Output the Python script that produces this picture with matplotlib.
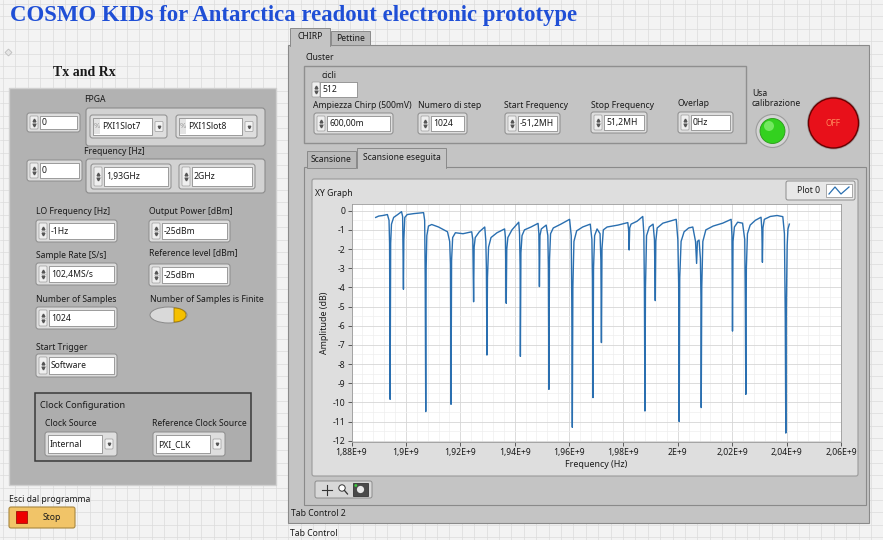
import numpy as np
import matplotlib.pyplot as plt
from matplotlib.patches import Rectangle, FancyBboxPatch, Circle, Ellipse, Polygon

W, H = 883, 540
plt.rcParams['font.family'] = ['Noto Sans', 'DejaVu Sans']

# ---- XY graph data, frequency in MHz, amplitude in dB
TRACE_FREQ_MHZ = [
    1888.9, 1890.0, 1891.5, 1893.2,
    1893.8, 1894.0, 1894.2, 1894.4, 1894.7, 1895.5, 1897.0, 1898.4,
    1898.8, 1899.0, 1899.1, 1899.25, 1899.6, 1900.5, 1903.0, 1906.5,
    1906.9, 1907.1, 1907.3, 1907.45, 1907.7, 1908.3, 1909.5, 1912.0, 1915.3,
    1916.1, 1916.4, 1916.6, 1916.8, 1917.2, 1918.2, 1921.0, 1924.2,
    1924.6, 1924.9, 1925.1, 1925.5, 1927.0, 1929.0,
    1929.4, 1929.6, 1929.8, 1930.0, 1930.4, 1931.3, 1933.5, 1936.3,
    1936.6, 1936.9, 1937.1, 1937.5, 1939.0, 1941.5,
    1941.8, 1942.0, 1942.1, 1942.3, 1942.7, 1943.6, 1946.0, 1948.6,
    1948.9, 1949.1, 1949.3, 1949.8, 1951.6,
    1952.2, 1952.4, 1952.6, 1952.8, 1953.2, 1954.2, 1957.0, 1960.2,
    1960.8, 1961.0, 1961.2, 1961.4, 1961.8, 1962.8, 1965.0, 1967.8,
    1968.4, 1968.6, 1968.8, 1969.0, 1969.4, 1970.3, 1971.4,
    1971.7, 1971.9, 1972.1, 1972.6, 1974.0, 1978.0, 1981.6,
    1981.9, 1982.1, 1982.3, 1982.8, 1985.0, 1987.1,
    1987.5, 1987.7, 1987.9, 1988.1, 1988.5, 1989.5, 1990.9,
    1991.4, 1991.7, 1991.9, 1992.4, 1994.5, 1997.0, 1999.4,
    2000.0, 2000.3, 2000.5, 2000.7, 2001.2, 2002.3, 2004.0, 2005.5,
    2006.5, 2006.9, 2007.2, 2007.8, 2008.3, 2008.5, 2008.6, 2008.8, 2009.2,
    2010.3, 2013.0, 2016.5, 2019.6,
    2019.9, 2020.0, 2020.1, 2020.3, 2020.8, 2022.0, 2023.8,
    2024.6, 2024.8, 2025.0, 2025.2, 2025.6, 2026.6, 2028.5, 2030.6,
    2030.9, 2031.1, 2031.3, 2031.8, 2034.0, 2036.5, 2038.6,
    2039.2, 2039.5, 2039.7, 2039.9, 2040.2, 2040.5, 2041.0,
]
TRACE_AMP_DB = [
    -0.35, -0.28, -0.25, -0.2,
    -0.5, -1.7, -9.84, -1.7, -0.7, -0.35, -0.2, -0.05,
    -0.3, -2.6, -4.1, -1.5, -0.35, -0.2, -0.15, -0.1,
    -0.5, -3.5, -10.48, -3.0, -1.3, -0.8, -0.72, -0.85, -1.1,
    -1.6, -2.8, -10.1, -2.6, -1.4, -1.15, -1.2, -1.1,
    -1.5, -4.75, -1.9, -1.4, -1.1, -0.85,
    -1.6, -3.0, -7.53, -3.5, -1.9, -1.4, -1.15, -0.95,
    -1.4, -4.83, -2.0, -1.4, -1.0, -0.6,
    -1.2, -2.9, -7.6, -2.2, -1.3, -1.0, -0.85, -0.66,
    -1.2, -3.96, -1.3, -0.95, -0.75,
    -1.3, -2.9, -9.32, -2.6, -1.2, -0.9, -0.7, -0.45,
    -1.3, -4.8, -11.3, -4.0, -1.6, -1.05, -0.85, -0.7,
    -1.5, -3.5, -9.75, -3.0, -1.3, -0.95, -1.2,
    -2.6, -6.88, -2.0, -1.0, -0.85, -0.75, -0.62,
    -1.0, -2.05, -0.9, -0.7, -0.55, -0.3,
    -1.2, -4.0, -10.45, -4.0, -1.3, -0.85, -0.7,
    -1.5, -4.69, -1.6, -0.9, -0.65, -0.55, -0.45,
    -1.5, -3.8, -11.0, -3.5, -1.6, -1.1, -0.9, -0.85,
    -1.6, -2.75, -1.6, -1.53, -2.5, -4.5, -10.27, -4.0, -1.6,
    -1.0, -0.8, -0.65, -0.45,
    -1.3, -4.4, -6.28, -1.6, -0.85, -0.6, -0.65,
    -1.5, -4.5, -9.58, -3.0, -1.2, -0.75, -0.5, -0.34,
    -1.0, -2.69, -0.9, -0.45, -0.3, -0.25, -0.31,
    -1.2, -5.5, -11.6, -5.0, -1.8, -0.95, -0.7,
]
X_TICKS = [1.88e9, 1.90e9, 1.92e9, 1.94e9, 1.96e9, 1.98e9, 2.00e9, 2.02e9, 2.04e9, 2.06e9]
X_TICK_LABELS = ['1,88E+9', '1,9E+9', '1,92E+9', '1,94E+9', '1,96E+9', '1,98E+9',
                 '2E+9', '2,02E+9', '2,04E+9', '2,06E+9']
Y_TICKS = [0, -1, -2, -3, -4, -5, -6, -7, -8, -9, -10, -11, -12]

# ---- front panel control values
FPGA_INDEX = '0'
FPGA_SLOTS = ['PXI1Slot7', 'PXI1Slot8']
FREQ_INDEX = '0'
FREQ_VALUES = ['1,93GHz', '2GHz']
LO_FREQ = '-1Hz'
OUTPUT_POWER = '-25dBm'
SAMPLE_RATE = '102,4MS/s'
REF_LEVEL = '-25dBm'
N_SAMPLES = '1024'
START_TRIGGER = 'Software'
CLOCK_SOURCE = 'Internal'
REF_CLOCK_SOURCE = 'PXI_CLK'
CICLI = '512'
AMPIEZZA = '600,00m'
NUM_STEP = '1024'
START_FREQ = '-51,2MH'
STOP_FREQ = '51,2MH'
OVERLAP = '0Hz'

TRACE_COLOR = '#2a6fb0'
PANEL_GRAY = '#b2b2b2'
PAGE_GRAY = '#c4c4c4'
TXT = '#1a1a1a'
FS = 6.2


def box(ax, x0, y0, x1, y1, fc, ec='#8a8a8a', lw=0.7, r=2.0, z=2):
    ax.add_patch(FancyBboxPatch((x0, y0), x1 - x0, y1 - y0,
                                boxstyle=f'round,pad=0,rounding_size={r}',
                                fc=fc, ec=ec, lw=lw, zorder=z))


def label(ax, x, y, s, size=FS, **kw):
    ax.text(x, y, s, fontsize=size, color=kw.pop('color', TXT), va='center',
            ha=kw.pop('ha', 'left'), zorder=kw.pop('zorder', 6), **kw)


def arrows(ax, x0, y0, y1, z=4):
    box(ax, x0, y0, x0 + 8, y1, '#efefef', ec='#9c9c9c', lw=0.5, r=1, z=z)
    ym = (y0 + y1) / 2
    ax.plot([x0 + 4], [ym - 2.6], marker='^', ms=2.0, color='#555555', zorder=z + 1)
    ax.plot([x0 + 4], [ym + 2.6], marker='v', ms=2.0, color='#555555', zorder=z + 1)
    ax.plot([x0 + 1.5, x0 + 6.5], [ym, ym], color='#b0b0b0', lw=0.4, zorder=z + 1)


def numeric(ax, x0, y0, x1, y1, s, with_arrows=True, z=3):
    box(ax, x0, y0, x1, y1, '#dedede', ec='#8c8c8c', lw=0.7, r=2.5, z=z)
    fx = x0 + 3
    if with_arrows:
        arrows(ax, x0 + 3, y0 + 3, y1 - 3, z=z + 1)
        fx = x0 + 13
    ax.add_patch(Rectangle((fx, y0 + 3), x1 - 3 - fx, y1 - y0 - 6, fc='white',
                           ec='#7a7a7a', lw=0.5, zorder=z + 1))
    label(ax, fx + 2, (y0 + y1) / 2 + 0.3, s, zorder=z + 2)


def ring(ax, x0, y0, x1, y1, s, icon=False, z=3):
    box(ax, x0, y0, x1, y1, '#dedede', ec='#8c8c8c', lw=0.7, r=2.5, z=z)
    ax.add_patch(Rectangle((x0 + 3, y0 + 3), x1 - x0 - 18, y1 - y0 - 6, fc='white',
                           ec='#7a7a7a', lw=0.5, zorder=z + 1))
    box(ax, x1 - 12, (y0 + y1) / 2 - 5, x1 - 4, (y0 + y1) / 2 + 5, '#f2f2f2',
        ec='#9c9c9c', lw=0.5, r=1, z=z + 1)
    ax.plot([x1 - 8], [(y0 + y1) / 2], marker='v', ms=1.8, color='#555555', zorder=z + 3)
    tx = x0 + 5
    if icon:
        ax.add_patch(Rectangle((x0 + 4, y0 + 4), 6, y1 - y0 - 8, fc='#e4e4e4', ec='none',
                               zorder=z + 2))
        label(ax, x0 + 7, (y0 + y1) / 2, '%', size=5.5, color='#9a9a9a', ha='center',
              zorder=z + 3)
        tx = x0 + 12
    label(ax, tx, (y0 + y1) / 2 + 0.3, s, zorder=z + 3)


fig = plt.figure(figsize=(W / 100, H / 100), dpi=100)
ui = fig.add_axes([0, 0, 1, 1])
ui.set_xlim(0, W)
ui.set_ylim(H, 0)
ui.axis('off')

# LabVIEW panel grid background
ui.add_patch(Rectangle((0, 0), W, H, fc='#f3f3f3', ec='none', zorder=0))
for gxp in np.arange(3, W, 12.4):
    ui.plot([gxp, gxp], [0, H], color='#dcdcdc', lw=0.5, zorder=0.5)
for gyp in np.arange(4, H, 12.4):
    ui.plot([0, W], [gyp, gyp], color='#dcdcdc', lw=0.5, zorder=0.5)
ui.plot([8], [52], marker='D', ms=3.5, mfc='#e6e6e6', mec='#bdbdbd', mew=0.6, zorder=1)

ui.text(10, 15, 'COSMO KIDs for Antarctica readout electronic prototype',
        fontsize=16.4, fontweight='bold', family=['Liberation Serif', 'DejaVu Serif'],
        color='#1f4fd6', va='center', ha='left', zorder=6)
ui.text(53, 73, 'Tx and Rx', fontsize=10, fontweight='bold',
        family=['Liberation Serif', 'DejaVu Serif'], color=TXT, va='center', zorder=6)

# ---- left cluster
ui.add_patch(Rectangle((9, 88), 267, 397, fc=PANEL_GRAY, ec='#d0d0d0', lw=1.0, zorder=1))
label(ui, 84, 100, 'FPGA')
numeric(ui, 27, 113, 80, 132, FPGA_INDEX)
box(ui, 86, 108, 265, 146, '#d2d2d2', ec='#8c8c8c', lw=0.8, r=3)
ring(ui, 90, 115, 167, 138, FPGA_SLOTS[0], icon=True)
ring(ui, 176, 115, 257, 138, FPGA_SLOTS[1], icon=True)

label(ui, 84, 151, 'Frequency [Hz]')
numeric(ui, 27, 160, 82, 181, FREQ_INDEX)
box(ui, 86, 159, 265, 193, '#d2d2d2', ec='#8c8c8c', lw=0.8, r=3)
numeric(ui, 91, 164, 171, 189, FREQ_VALUES[0])
numeric(ui, 179, 164, 255, 189, FREQ_VALUES[1])

label(ui, 36, 212, 'LO Frequency [Hz]')
numeric(ui, 36, 220, 117, 242, LO_FREQ)
label(ui, 149, 212, 'Output Power [dBm]')
numeric(ui, 149, 220, 230, 242, OUTPUT_POWER)
label(ui, 36, 256, 'Sample Rate [S/s]')
numeric(ui, 36, 263, 117, 285, SAMPLE_RATE)
label(ui, 149, 253, 'Reference level [dBm]')
numeric(ui, 149, 264, 230, 286, REF_LEVEL)
label(ui, 36, 299, 'Number of Samples')
numeric(ui, 36, 307, 117, 329, N_SAMPLES)
label(ui, 150, 299, 'Number of Samples is Finite')
ui.add_patch(Ellipse((168.5, 315), 37, 16, fc='#d9d9d9', ec='#8a8a8a', lw=0.7, zorder=3))
th = np.linspace(-np.pi / 2, np.pi / 2, 30)
ui.add_patch(Polygon(np.column_stack([174 + 12 * np.cos(th), 315 + 7 * np.sin(th)]),
                     closed=True, fc='#f5c000', ec='#a07800', lw=0.6, zorder=4))
label(ui, 36, 347, 'Start Trigger')
numeric(ui, 36, 354, 117, 377, START_TRIGGER)

# clock configuration sub-cluster
ui.add_patch(Rectangle((35, 393), 216, 68, fc='#adadad', ec='#3a3a3a', lw=1.1, zorder=2))
label(ui, 40, 406, 'Clock Configuration', fontweight='bold', size=6.6)
label(ui, 45, 423, 'Clock Source')
ring(ui, 45, 432, 117, 456, CLOCK_SOURCE)
label(ui, 152, 423, 'Reference Clock Source')
ring(ui, 153, 432, 225, 456, REF_CLOCK_SOURCE)

label(ui, 9, 499, 'Esci dal programma')
box(ui, 9, 507, 75, 528, '#f1c468', ec='#a8873f', lw=0.8, r=2)
ui.add_patch(Rectangle((16, 511), 11, 12, fc='#ee0000', ec='#900000', lw=0.5, zorder=4))
label(ui, 52, 517.5, 'Stop', ha='center')

# ---- outer tab control
ui.add_patch(Rectangle((288, 45), 581, 478, fc=PAGE_GRAY, ec='#8a8a8a', lw=0.8, zorder=1))
ui.add_patch(Polygon([(331, 45), (331, 31), (370, 31), (370, 45)], closed=True,
                     fc='#b9b9b9', ec='#8a8a8a', lw=0.7, zorder=1))
ui.add_patch(Polygon([(290, 46), (290, 28), (330, 28), (330, 46)], closed=True,
                     fc=PAGE_GRAY, ec='#8a8a8a', lw=0.7, zorder=1.5))
ui.add_patch(Rectangle((290.5, 44), 39, 3, fc=PAGE_GRAY, ec='none', zorder=1.6))
label(ui, 310, 36.5, 'CHIRP', ha='center')
label(ui, 350.5, 38.5, 'Pettine', ha='center')

label(ui, 305, 58, 'Cluster')
ui.add_patch(Rectangle((304, 66), 442, 77, fc=PAGE_GRAY, ec='#8f8f8f', lw=1.0, zorder=2))
label(ui, 322, 75, 'cicli')
ui.add_patch(Rectangle((320, 82), 37, 15, fc='white', ec='#7a7a7a', lw=0.5, zorder=4))
arrows(ui, 312, 82, 97)
label(ui, 322, 89.8, CICLI)
label(ui, 313, 105, 'Ampiezza Chirp (500mV)')
numeric(ui, 314, 113, 393, 134, AMPIEZZA)
label(ui, 418, 105, 'Numero di step')
numeric(ui, 418, 113, 467, 134, NUM_STEP)
label(ui, 504, 105, 'Start Frequency')
numeric(ui, 505, 113, 560, 134, START_FREQ)
label(ui, 591, 105, 'Stop Frequency')
numeric(ui, 591, 112, 647, 133, STOP_FREQ)
label(ui, 678, 104, 'Overlap')
numeric(ui, 678, 112, 733, 133, OVERLAP)

label(ui, 752, 93, 'Usa')
label(ui, 752, 103, 'calibrazione')
ui.add_patch(Circle((772.5, 131), 16.5, fc='#d4d4d4', ec='#9c9c9c', lw=0.8, zorder=3))
ui.add_patch(Circle((772.5, 131), 12.5, fc='#33d11f', ec='#2a9a1a', lw=0.6, zorder=4))
ui.add_patch(Circle((769, 126), 5, fc='#8ff27c', ec='none', alpha=0.7, zorder=5))
ui.add_patch(Circle((833.5, 123), 26.5, fc='#9b9b9b', ec='none', zorder=3))
ui.add_patch(Circle((833.5, 123), 25, fc='#e8101a', ec='#6a0000', lw=1.0, zorder=4))
label(ui, 833.5, 123.5, 'OFF', ha='center', color='#ff8a5c', size=6)

# ---- inner tab control (Tab Control 2)
ui.add_patch(Rectangle((304, 167), 562, 338, fc=PAGE_GRAY, ec='#8a8a8a', lw=0.8, zorder=2))
ui.add_patch(Polygon([(307, 168), (307, 151), (356, 151), (356, 168)], closed=True,
                     fc='#b9b9b9', ec='#8a8a8a', lw=0.7, zorder=2))
ui.add_patch(Polygon([(357, 168), (357, 148), (446, 148), (446, 168)], closed=True,
                     fc=PAGE_GRAY, ec='#8a8a8a', lw=0.7, zorder=2.5))
ui.add_patch(Rectangle((357.5, 166), 88, 3, fc=PAGE_GRAY, ec='none', zorder=2.6))
label(ui, 331.5, 159.5, 'Scansione', ha='center')
label(ui, 401.5, 158, 'Scansione eseguita', ha='center')

# XY graph frame
box(ui, 312, 179, 858, 476, '#dedede', ec='#9a9a9a', lw=0.8, r=2, z=3)
label(ui, 315, 193, 'XY Graph')
box(ui, 786, 181, 855, 200, '#e8e8e8', ec='#8c8c8c', lw=0.7, r=2, z=4)
label(ui, 797, 190.5, 'Plot 0', zorder=6)
ui.add_patch(Rectangle((826, 184), 26, 13, fc='white', ec='#8a8a8a', lw=0.5, zorder=5))
ui.plot([829, 835, 841, 849], [194, 187, 194, 187], color=TRACE_COLOR, lw=0.9, zorder=6)

# graph palette
box(ui, 315, 481, 372, 498, '#d8d8d8', ec='#8c8c8c', lw=0.7, r=2, z=3)
ui.plot([322, 332], [489.5, 489.5], color='#333333', lw=0.8, zorder=5)
ui.plot([327, 327], [484.5, 494.5], color='#333333', lw=0.8, zorder=5)
ui.add_patch(Circle((342, 488), 3.2, fc='white', ec='#333333', lw=0.7, zorder=5))
ui.plot([344.5, 347.5], [490.5, 494], color='#333333', lw=0.9, zorder=5)
ui.add_patch(Rectangle((353, 483), 15, 13, fc='#4a4a4a', ec='#222222', lw=0.5, zorder=5))
ui.add_patch(Circle((360.5, 489.5), 3.6, fc='#e8e8e8', ec='none', zorder=6))
ui.add_patch(Circle((355.8, 485.5), 1.4, fc='#3ccf3c', ec='none', zorder=6))

label(ui, 291, 513, 'Tab Control 2')
label(ui, 290, 534, 'Tab Control')

# ---- the XY graph itself
gax = fig.add_axes([351.5 / W, 1 - 441.5 / H, (841 - 351.5) / W, (441.5 - 204) / H])
gax.set_zorder(10)
gax.set_facecolor('white')
freq_hz = np.array(TRACE_FREQ_MHZ) * 1e6
gax.plot(freq_hz, TRACE_AMP_DB, color=TRACE_COLOR, lw=1.0, zorder=3)
gax.set_xlim(1.88e9, 2.06e9)
gax.set_ylim(-12.04, 0.35)
gax.set_xticks(X_TICKS)
gax.set_xticklabels(X_TICK_LABELS)
gax.set_yticks(Y_TICKS)
gax.set_yticklabels([str(v) for v in Y_TICKS])
gax.set_xticks(np.arange(1.88e9, 2.06e9, 0.004e9), minor=True)
gax.set_yticks(np.arange(-12, 0.1, 0.5), minor=True)
gax.grid(which='major', color='#d6d6d6', lw=0.6)
gax.grid(which='minor', color='#eeeeee', lw=0.5)
gax.set_axisbelow(True)
gax.tick_params(which='major', direction='out', length=3, width=0.6, colors='#444444',
                labelsize=6.2, labelcolor=TXT, pad=1.5)
gax.tick_params(which='minor', length=0)
for side, sp in gax.spines.items():
    sp.set_color('#9a9a9a')
    sp.set_linewidth(0.6)
gax.set_xlabel('Frequency (Hz)', fontsize=6.4, color=TXT, labelpad=2)
gax.set_ylabel('Amplitude (dB)', fontsize=6.4, color=TXT, labelpad=2.5)

fig.savefig('out.png', dpi=100)
